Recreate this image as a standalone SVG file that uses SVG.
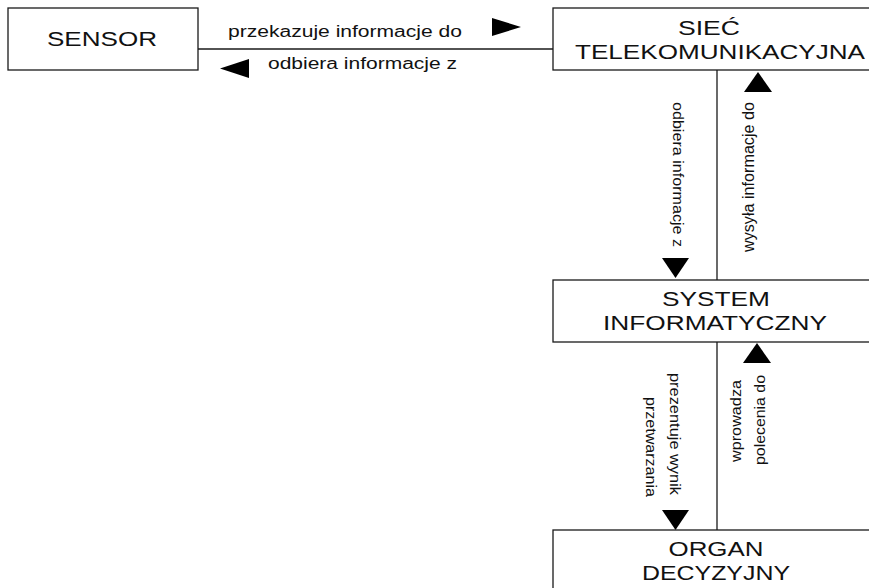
<svg xmlns="http://www.w3.org/2000/svg" width="869" height="588" viewBox="0 0 869 588">
<style>
.box{fill:#fff;stroke:#1a1a1a;stroke-width:1.3}
.ln{stroke:#1a1a1a;stroke-width:1.3;fill:none}
.ar{fill:#000}
.nt{font-family:"Liberation Sans",Arial,sans-serif;font-size:20px;fill:#111;text-anchor:middle}
.lb{font-family:"Liberation Sans",Arial,sans-serif;font-size:16px;fill:#111}
.vl{font-family:"Liberation Sans",Arial,sans-serif;font-size:15px;fill:#111}
</style>
<rect width="869" height="588" fill="#fff"/>
<g id="connectors">
<line class="ln" x1="198" y1="49" x2="553" y2="49"/>
<polygon class="ar" points="492,18 492,36 521,27"/>
<polygon class="ar" points="249,59 249,78 220,68.5"/>
<text class="lb" x="228" y="37" textLength="234" lengthAdjust="spacingAndGlyphs">przekazuje informacje do</text>
<text class="lb" x="268" y="69" textLength="189" lengthAdjust="spacingAndGlyphs">odbiera informacje z</text>
<line class="ln" x1="717" y1="70" x2="717" y2="280"/>
<polygon class="ar" points="744,92 772,92 758,72"/>
<polygon class="ar" points="662,258 689,258 675.5,278"/>
<text class="vl" transform="translate(672.5,102) rotate(90)" x="0" y="0" textLength="145" lengthAdjust="spacingAndGlyphs">odbiera informacje z</text>
<text class="vl" transform="translate(754,252) rotate(-90)" x="0" y="0" style="font-size:16px" textLength="150" lengthAdjust="spacingAndGlyphs">wysyła informacje do</text>
<line class="ln" x1="717" y1="342" x2="717" y2="530"/>
<polygon class="ar" points="743,363 771,363 757,343"/>
<polygon class="ar" points="662,510 689,510 675.5,530"/>
<text class="vl" transform="translate(670,495) rotate(90)" x="0" y="0" text-anchor="end" textLength="122" lengthAdjust="spacingAndGlyphs">prezentuje wynik</text>
<text class="vl" transform="translate(646,497) rotate(90)" x="0" y="0" text-anchor="end" textLength="100" lengthAdjust="spacingAndGlyphs">przetwarzania</text>
<text class="vl" transform="translate(741,462) rotate(-90)" x="0" y="0" textLength="82" lengthAdjust="spacingAndGlyphs">wprowadza</text>
<text class="vl" transform="translate(765,465) rotate(-90)" x="0" y="0" textLength="90" lengthAdjust="spacingAndGlyphs">polecenia do</text>
</g>
<g id="sensor">
<rect class="box" x="8" y="8" width="190" height="62"/>
<text class="nt" x="102" y="46" textLength="110" lengthAdjust="spacingAndGlyphs">SENSOR</text>
</g>
<g id="siec">
<rect class="box" x="553" y="8" width="330" height="62"/>
<text class="nt" x="709" y="35" textLength="62" lengthAdjust="spacingAndGlyphs">SIEĆ</text>
<text class="nt" x="720" y="59" textLength="290" lengthAdjust="spacingAndGlyphs">TELEKOMUNIKACYJNA</text>
</g>
<g id="system">
<rect class="box" x="553" y="280" width="330" height="62"/>
<text class="nt" x="716" y="306" textLength="108" lengthAdjust="spacingAndGlyphs">SYSTEM</text>
<text class="nt" x="715" y="330" textLength="224" lengthAdjust="spacingAndGlyphs">INFORMATYCZNY</text>
</g>
<g id="organ">
<rect class="box" x="553" y="530" width="330" height="70"/>
<text class="nt" x="716" y="556" textLength="95" lengthAdjust="spacingAndGlyphs">ORGAN</text>
<text class="nt" x="716" y="580" textLength="148" lengthAdjust="spacingAndGlyphs">DECYZYJNY</text>
</g>
</svg>
